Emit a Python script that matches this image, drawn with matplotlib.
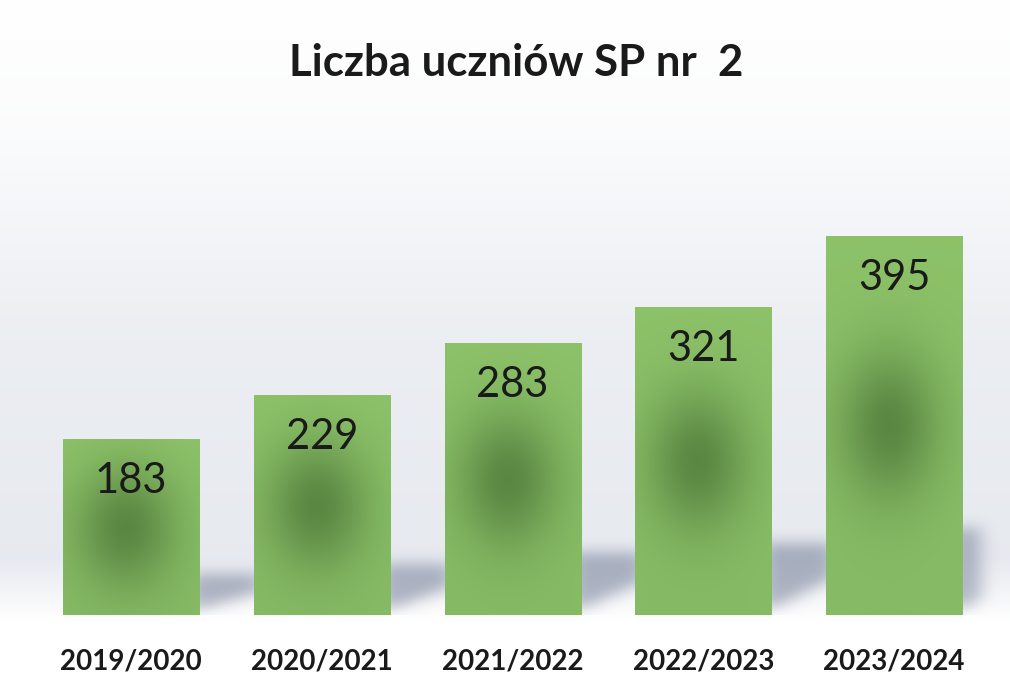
import numpy as np
import matplotlib
matplotlib.use("Agg")
import matplotlib.pyplot as plt

# data
years = ["2019/2020", "2020/2021", "2021/2022", "2022/2023", "2023/2024"]
students = [183, 229, 283, 321, 395]
title = "Liczba uczniów SP nr  2"

LIGHT = np.array([0.55, 0.76, 0.41])
DARK = np.array([0.30, 0.47, 0.22])
SHADOW = np.array([0.50, 0.54, 0.63])


def box_blur(a, r, axis):
    k = np.ones(2 * r + 1) / (2 * r + 1)
    return np.apply_along_axis(lambda v: np.convolve(v, k, mode="same"), axis, a)


def main():
    plt.rcParams["font.family"] = ["Lato", "DejaVu Sans"]
    fig = plt.figure(figsize=(10.1, 6.85), dpi=100)

    # background: white top, pale grey band, white floor
    bg = fig.add_axes([0, 0, 1, 1], zorder=0)
    fy = np.linspace(0, 685, 400)
    level = np.interp(fy, [0, 130, 330, 560, 622, 685], [1.0, 0.985, 0.925, 0.905, 1.0, 1.0])
    tint = np.stack([level, level + (1 - level) * 0.12, level + (1 - level) * 0.35], axis=-1)
    bg.imshow(np.repeat(tint[:, None, :], 2, axis=1), extent=[0, 1, 0, 1],
              aspect="auto", origin="upper")
    bg.axis("off")

    ax = fig.add_axes([0, 70 / 685, 1, 455 / 685], zorder=1)
    ax.set_facecolor("none")
    xlim = (-0.687, 4.607)
    ylim = (0, 475)
    x = np.arange(len(years))
    bars = ax.bar(x, students, width=0.713, color=LIGHT, zorder=3)

    # soft shadows cast to the right of every bar
    gx = np.linspace(xlim[0], xlim[1], 505)
    gy = np.linspace(ylim[0], ylim[1], 240)
    X, Y = np.meshgrid(gx, gy)
    mask = np.zeros_like(X)
    for b in bars:
        xr = b.get_x() + b.get_width()
        hs = 0.23 * b.get_height()
        d = 0.33
        low = 5 + hs * 0.45 * np.clip((X - xr) / d, 0, 1)
        inside = (X >= xr - 0.05) & (X <= xr + d) & (Y <= hs) & (Y >= low)
        mask[inside] = 1.0
    mask[X > 4.45] = 0
    for _ in range(3):
        mask = box_blur(mask, 4, 1)
        mask = box_blur(mask, 3, 0)
    rgba = np.zeros(mask.shape + (4,))
    rgba[..., :3] = SHADOW
    rgba[..., 3] = 0.62 * mask
    ax.imshow(rgba, extent=[xlim[0], xlim[1], ylim[0], ylim[1]], origin="lower",
              aspect="auto", zorder=2, interpolation="bilinear")

    # radial dark centre inside each bar
    for b, v in zip(bars, students):
        bx, bw, bh = b.get_x(), b.get_width(), b.get_height()
        u = np.linspace(0, 1, 80)
        w = np.linspace(0, bh, 200)
        U, W = np.meshgrid(u, w)
        sy = 40 + 0.06 * v
        g = np.exp(-0.5 * ((U - 0.46) / 0.30) ** 2 - 0.5 * ((W - 0.5 * bh) / sy) ** 2)
        g = 0.75 * g ** 1.3
        img = LIGHT * (1 - g[..., None]) + DARK * g[..., None]
        img = img * (0.96 + 0.04 * (W / bh))[..., None]
        ax.imshow(img, extent=[bx, bx + bw, 0, bh], origin="lower", aspect="auto",
                  zorder=4, interpolation="bilinear")
        ax.annotate(str(v), (bx + bw / 2, bh), xytext=(0, -16), textcoords="offset points",
                    ha="center", va="top", fontsize=30, color="#1a1a1a", zorder=5)

    ax.set_xlim(*xlim)
    ax.set_ylim(*ylim)
    ax.set_xticks(x)
    ax.set_xticklabels(years, fontsize=20, fontweight="bold", color="#1a1a1a")
    ax.tick_params(axis="x", length=0, pad=24)
    ax.set_yticks([])
    for s in ax.spines.values():
        s.set_visible(False)

    fig.text(0.511, 0.908, title, ha="center", va="center", fontsize=31.5,
             fontweight="bold", color="#1a1a1a")

    fig.savefig("out.png", dpi=100)


if __name__ == "__main__":
    main()
